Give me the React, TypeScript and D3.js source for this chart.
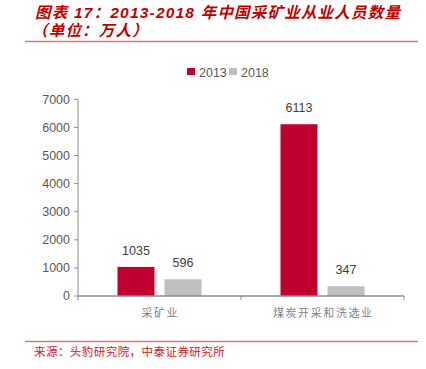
import React from "react";
import * as d3 from "d3";

const categories = ["采矿业", "煤炭开采和洗选业"];
const seriesNames = ["2013", "2018"];
const values2013 = [1035, 6113];
const values2018 = [596, 347];
const yTicks = [0, 1000, 2000, 3000, 4000, 5000, 6000, 7000];

const RED = "#C0002F";
const GRAY = "#BFBFBF";
const TEXT = "#595959";
const TITLE_RED = "#C00000";
const TITLE_FONT = "'Liberation Sans', 'Noto Sans CJK SC', sans-serif";

export default function App() {
  const W = 426, H = 369;
  const x0 = 78, x1 = 404;
  const yTop = 99.3, yBot = 296;
  const x = d3.scaleBand<string>().domain(categories).range([x0, x1]).paddingInner(0).paddingOuter(0);
  const y = d3.scaleLinear().domain([0, 7000]).range([yBot, yTop]);
  const sub = d3.scaleBand<string>().domain(seriesNames).range([0, x.bandwidth()]).paddingInner(0.213).paddingOuter(0.84);
  const colors = [RED, GRAY];
  const series = [values2013, values2018];
  const ticksX = [x0, x0 + x.bandwidth(), x1];

  return (
    <svg width={W} height={H} style={{ position: "absolute", left: 0, top: 0, background: "#fff" }}>
      <text x={35} y={18} fill={TITLE_RED} fontFamily={TITLE_FONT} fontWeight="bold" fontStyle="italic" fontSize={15.5} letterSpacing={1.2}>
        图表 17：2013-2018 年中国采矿业从业人员数量
      </text>
      <text x={32} y={35.5} fill={TITLE_RED} fontFamily={TITLE_FONT} fontWeight="bold" fontStyle="italic" fontSize={15.5} letterSpacing={1.2}>
        （单位：万人）
      </text>
      <line x1={25} x2={418} y1={41.5} y2={41.5} stroke="#D9787F" strokeWidth={1.5} />

      {/* legend */}
      {seriesNames.map((s, i) => (
        <g key={s} transform={`translate(${187 + i * 42},0)`}>
          <rect x={0} y={68} width={8} height={7} fill={colors[i]} />
          <text x={12} y={76.5} fill={TEXT} fontFamily="'Liberation Sans', Arial, sans-serif" fontSize={12.5}>{s}</text>
        </g>
      ))}

      {/* y axis */}
      <line x1={x0} x2={x0} y1={yTop} y2={yBot} stroke="#8C8C8C" strokeWidth={1} />
      {yTicks.map(t => (
        <g key={t}>
          <line x1={x0 - 4} x2={x0} y1={y(t)} y2={y(t)} stroke="#8C8C8C" />
          <text x={70} y={y(t)} dy="0.35em" textAnchor="end" fill={TEXT} fontFamily="'Liberation Sans', Arial, sans-serif" fontSize={12.5}>{t}</text>
        </g>
      ))}

      {/* bars */}
      {categories.map((c, ci) => (
        <g key={c}>
          {series.map((vals, si) => {
            const bx = (x(c) as number) + (sub(seriesNames[si]) as number);
            const bw = sub.bandwidth();
            return (
              <g key={si}>
                <rect x={bx} y={y(vals[ci])} width={bw} height={yBot - y(vals[ci])} fill={colors[si]} />
                <text x={bx + bw / 2} y={y(vals[ci]) - 12} textAnchor="middle" fill="#404040" fontFamily="'Liberation Sans', Arial, sans-serif" fontSize={12.5}>{vals[ci]}</text>
              </g>
            );
          })}
          <text x={(x(c) as number) + x.bandwidth() / 2 + 0.8} y={317} textAnchor="middle" fill="#7F7F7F" fontFamily="'Noto Sans CJK SC', serif" fontSize={11} letterSpacing={1.6}>{c}</text>
        </g>
      ))}

      {/* x axis */}
      <line x1={x0} x2={x1} y1={yBot} y2={yBot} stroke="#8C8C8C" strokeWidth={1.5} />
      {ticksX.map((t, i) => (
        <line key={i} x1={t} x2={t} y1={yBot} y2={yBot + 4} stroke="#8C8C8C" />
      ))}

      <line x1={25} x2={418} y1={341.5} y2={341.5} stroke="#D9787F" strokeWidth={1.5} />
      <text x={34} y={356} fill="#D0202A" fontFamily="'Noto Sans CJK SC', serif" fontSize={11.5} letterSpacing={0.45}>来源：头豹研究院，中泰证券研究所</text>
    </svg>
  );
}
